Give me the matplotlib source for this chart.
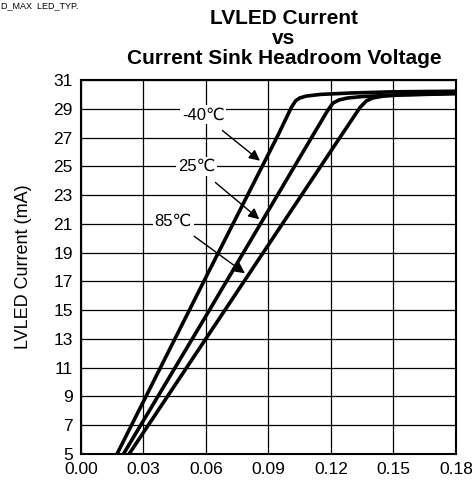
import matplotlib.pyplot as plt

# readings: headroom voltage (V) vs LVLED current (mA)
v_m40 = [0.0173, 0.0600, 0.0947, 0.1010, 0.1030, 0.1050, 0.1080, 0.1150, 0.1300, 0.1500, 0.1800]
i_m40 = [5.0, 17.3, 27.2, 29.1, 29.55, 29.75, 29.88, 30.0, 30.1, 30.18, 30.22]

v_25 = [0.0204, 0.0600, 0.1115, 0.1185, 0.1210, 0.1240, 0.1280, 0.1350, 0.1500, 0.1800]
i_25 = [5.0, 14.6, 27.2, 28.9, 29.4, 29.62, 29.75, 29.85, 29.95, 30.05]

v_85 = [0.0231, 0.0700, 0.1252, 0.1340, 0.1370, 0.1400, 0.1450, 0.1550, 0.1800]
i_85 = [5.0, 15.2, 27.2, 29.1, 29.55, 29.75, 29.88, 29.98, 30.08]

x_ticks = [0.00, 0.03, 0.06, 0.09, 0.12, 0.15, 0.18]
y_ticks = list(range(5, 32, 2))

# labels: text, text position, arrow tip
labels = ["-40℃", "25℃", "85℃"]
label_pos = [(0.0586, 28.57), (0.0555, 24.97), (0.0443, 21.2)]
arrow_tip = [(0.0859, 25.39), (0.0856, 21.32), (0.0787, 17.56)]

plt.rcParams['font.family'] = ['Liberation Sans', 'DejaVu Sans']

fig = plt.figure(figsize=(4.72, 4.87), dpi=100)
ax = fig.add_axes([0.1716, 0.0678, 0.7944, 0.7679])

for v, i in [(v_m40, i_m40), (v_25, i_25), (v_85, i_85)]:
  ax.plot(v, i, color="black", lw=2.6, solid_joinstyle="round", solid_capstyle="butt", zorder=3)

ax.set_xlim(0, 0.18)
ax.set_ylim(5, 31)
ax.set_xticks(x_ticks)
ax.set_xticklabels(["%.2f" % t for t in x_ticks])
ax.set_yticks(y_ticks)
ax.tick_params(length=0, labelsize=12.5, pad=6)
ax.grid(True, color="black", lw=0.9)
for s in ax.spines.values():
  s.set_linewidth(1.5)

for txt, (tx, ty), (ax_, ay) in zip(labels, label_pos, arrow_tip):
  ax.annotate(txt, xy=(ax_, ay), xytext=(tx, ty), fontsize=12, ha="center", va="center",
              bbox=dict(facecolor="white", edgecolor="none", pad=1.5),
              arrowprops=dict(arrowstyle="-|>", color="black", lw=1.0, mutation_scale=16,
                              shrinkA=7, shrinkB=0), zorder=4)

ax.set_ylabel("LVLED Current (mA)", fontsize=13)
ax.yaxis.set_label_coords(-0.13, 0.5)

fig.text(284 / 472, 1 - 9 / 487, "LVLED Current\nvs\nCurrent Sink Headroom Voltage",
         ha="center", va="top", fontsize=15, fontweight="bold", linespacing=1.07)
fig.text(0.002, 0.998, "D_MAX  LED_TYP.", fontsize=6.5, va="top", ha="left")

fig.savefig("out.png", dpi=100)
